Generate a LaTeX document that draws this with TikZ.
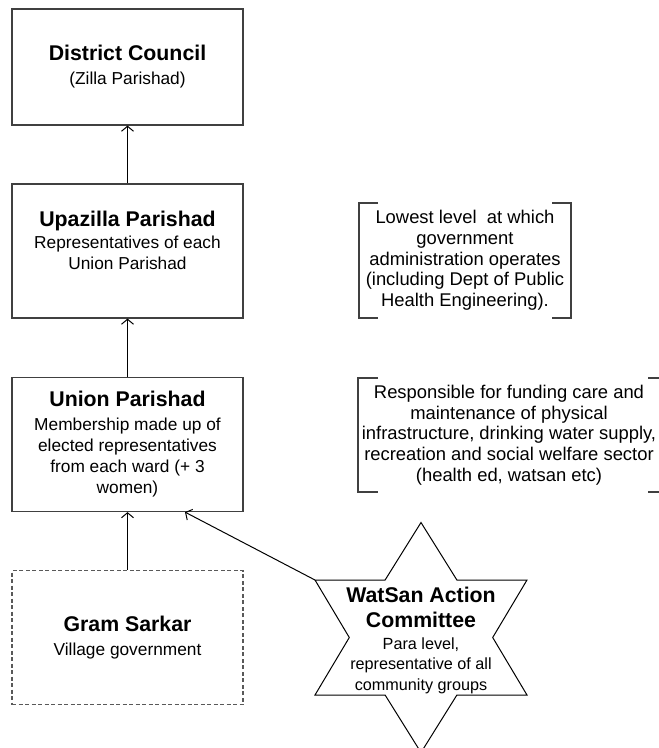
\documentclass[tikz,border=0pt]{standalone}
\usepackage{fontspec}
\setmainfont{Liberation Sans}
\usetikzlibrary{
    arrows.meta,
    positioning
}
\newcommand{\boxfont}{\fontsize{17.3}{21}\selectfont}
\newcommand{\notefont}{\fontsize{18.4}{20.7}\selectfont}
\newcommand{\wacfont}{\fontsize{16.2}{20.5}\selectfont}
\newcommand{\leveltitle}[1]{{\fontsize{21.3}{24}\selectfont\bfseries #1}}
\tikzset{
    level/.style={draw=black!75, line width=1.2pt, minimum width=231pt,
        minimum height=134pt, align=center, inner sep=2pt, font=\boxfont},
    village/.style={level, draw=black!65, dash pattern=on 4pt off 2.5pt},
    bracketnote/.style={minimum width=212pt, minimum height=115pt,
        align=center, inner sep=0pt, outer sep=0pt, font=\notefont},
    bracketline/.style={draw=black!75, line width=1.2pt},
    starline/.style={line width=1pt},
    uplink/.style={-{Straight Barb[length=5pt,width=12pt]}, line width=1pt}
}

\begin{document}
\begin{tikzpicture}[x=1pt, y=-1pt]
    \useasboundingbox (0,0) rectangle (659,748);
    % the four levels of local government
    \node[level, minimum height=116pt] (district) at (127.5,67)
        {\leveltitle{District Council}\\[3pt](Zilla Parishad)};
    \node[level] (upazilla) at (127.5,251)
        {\leveltitle{Upazilla Parishad}\\[1pt]Representatives of each\\Union Parishad\\\mbox{}};
    \node[level] (union) at (127.5,444.5)
        {\leveltitle{Union Parishad}\\[3pt]Membership made up of\\elected representatives\\from each ward (+ 3\\women)};
    \node[village] (gram) at (127.5,637.5)
        {\leveltitle{Gram Sarkar}\\[3pt]Village government};
    \draw[uplink] (upazilla.north) -- (district.south);
    \draw[uplink] (union.north) -- (upazilla.south);
    \draw[uplink] (gram.north) -- (union.south);
    % notes in brackets
    \node[bracketnote] (admin) at (465,260.5)
        {Lowest level~ at which\\government\\administration operates\\(including Dept of Public\\Health Engineering).};
    \draw[bracketline] ([xshift=19pt]admin.north west) -- (admin.north west)
        -- (admin.south west) -- ([xshift=19pt]admin.south west);
    \draw[bracketline] ([xshift=-19pt]admin.north east) -- (admin.north east)
        -- (admin.south east) -- ([xshift=-19pt]admin.south east);
    \node[bracketnote, minimum width=302pt, minimum height=114pt] (funding) at (509,435)
        {Responsible for funding care and\\maintenance of physical\\infrastructure, drinking water supply,\\recreation and social welfare sector\\(health ed, watsan etc)};
    \draw[bracketline] ([xshift=20pt]funding.north west) -- (funding.north west)
        -- (funding.south west) -- ([xshift=20pt]funding.south west);
    \draw[bracketline] ([xshift=-12pt]funding.north east) -- (funding.north east)
        -- (funding.south east) -- ([xshift=-12pt]funding.south east);
    % watsan star
    \draw[starline] (421,522.5) -- (385.1,580) -- (315,580) -- (349.3,637.5)
        -- (315,695) -- (385.1,695) -- (421,752.5) -- (456.9,695)
        -- (527,695) -- (492.7,637.5) -- (527,580) -- (456.9,580) -- cycle;
    \coordinate (wactip) at (315,580);
    \node[align=center, font=\wacfont] (wac) at (421,640)
        {\leveltitle{WatSan Action}\\[4.5pt]\leveltitle{Committee}\\[1.5pt]Para level,\\representative of all\\community groups};
    \draw[uplink] (wactip) -- ([xshift=57.5pt]union.south);
\end{tikzpicture}
\end{document}
